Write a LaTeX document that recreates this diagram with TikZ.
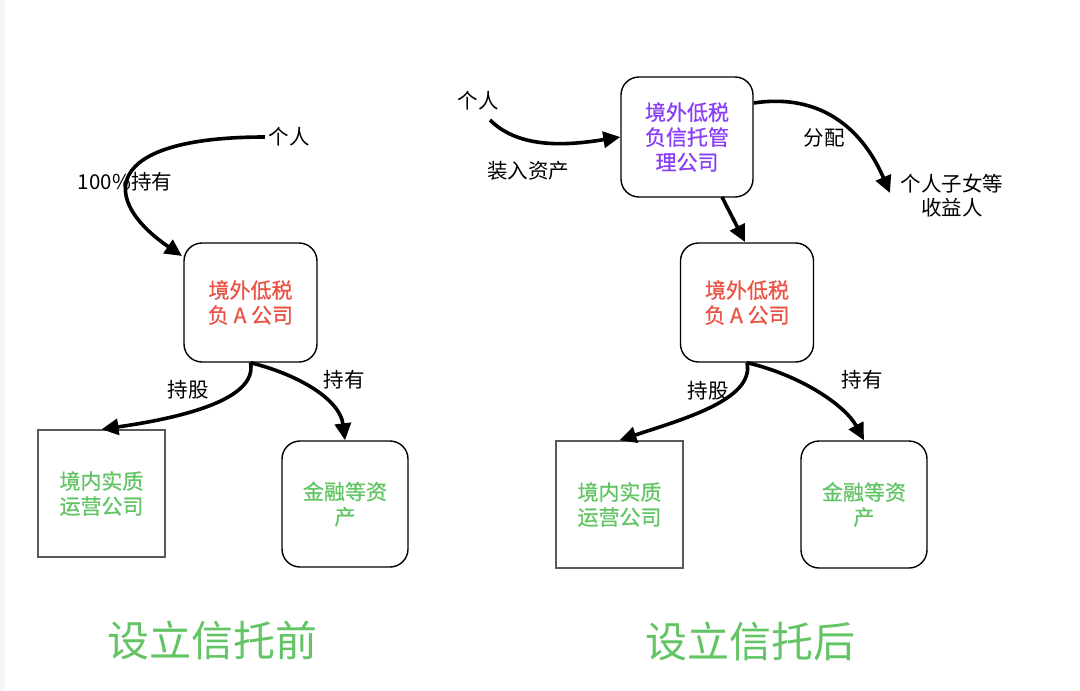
\documentclass[tikz,border=0pt]{standalone}
\usepackage{fontspec}
\setmainfont{Noto Sans CJK SC}
\newfontfamily\boxfont{Noto Sans CJK SC}[FakeBold=0.8]
\usetikzlibrary{arrows.meta}
\definecolor{txtred}{RGB}{233,84,70}
\definecolor{txtgreen}{RGB}{98,196,100}
\definecolor{txtpurple}{RGB}{138,62,245}
\tikzset{
    roundbox/.style={draw,line width=1.4pt,rounded corners=18pt,align=center,
        font=\boxfont\fontsize{21}{25}\selectfont},
    squarebox/.style={draw=black!65,line width=1.4pt,align=center,
        font=\boxfont\fontsize{21}{25}\selectfont},
    lbl/.style={align=center,font=\fontsize{20.5}{24}\selectfont},
    flow/.style={line width=3.6pt,-{Triangle[length=17pt,width=16pt]}}
}
\begin{document}
\begin{tikzpicture}[x=1pt,y=-1pt]
                  \useasboundingbox (0,0) rectangle (1080,691);
                  \fill[black!4] (0,0) rectangle (5,691);

                  % before
                  \node[lbl] (p1) at (289,137) {个人};
                  \node[roundbox,minimum width=133pt,minimum height=119pt,text=txtred]
                      (A1) at (250.5,302.5) {境外低税\\负 A 公司};
                  \node[squarebox,minimum width=127pt,minimum height=127pt,text=txtgreen]
                      (B1) at (101.5,493.5) {境内实质\\运营公司};
                  \node[roundbox,minimum width=126pt,minimum height=126pt,text=txtgreen]
                      (C1) at (345,504) {金融等资\\产};

                  \begin{scope}[lbl]
                      \node (l1) at (125,182) {100\%持有};
                      \node (l2) at (188,390) {持股};
                      \node (l3) at (344,380) {持有};
                  \end{scope}
                  \begin{scope}[flow]
                      \draw (p1.west) .. controls (100,137) and (100,200) .. (182,256);
                      \draw (A1.south) .. controls (258,400) and (180,418) .. (B1.north);
                      \draw (A1.south) .. controls (300,375) and (340,400) .. (C1.north);
                  \end{scope}

                  % after
                  \node[lbl] (p2) at (478,101) {个人};
                  \node[roundbox,minimum width=132pt,minimum height=120pt,text=txtpurple]
                      (T) at (687,137) {境外低税\\负信托管\\理公司};
                  \node[lbl] (ben) at (952,196) {个人子女等\\收益人};
                  \node[roundbox,minimum width=133pt,minimum height=119pt,text=txtred]
                      (A2) at (747,302.5) {境外低税\\负 A 公司};
                  \node[squarebox,minimum width=127pt,minimum height=127pt,text=txtgreen]
                      (B2) at (619.5,504.5) {境内实质\\运营公司};
                  \node[roundbox,minimum width=126pt,minimum height=127pt,text=txtgreen]
                      (C2) at (864,504.5) {金融等资\\产};

                  \begin{scope}[lbl]
                      \node (l4) at (528,171) {装入资产};
                      \node (l5) at (824,138) {分配};
                      \node (l6) at (708,391) {持股};
                      \node (l7) at (862,380) {持有};
                  \end{scope}
                  \begin{scope}[flow]
                      \draw (490,120) .. controls (520,150) and (570,145) .. (T.west);
                      \draw (T.east |- 0,103) .. controls (820,93) and (862,128) .. (890,193);
                      \draw (722,197) -- (745,242);
                      \draw (A2.south) .. controls (755,400) and (680,420) .. (B2.north);
                      \draw (A2.south) .. controls (800,375) and (845,405) .. (C2.north);
                  \end{scope}

                  \begin{scope}[text=txtgreen,font=\fontsize{42}{50}\selectfont]
                      \node (t1) at (212,640) {设立信托前};
                      \node (t2) at (750,641) {设立信托后};
                  \end{scope}
              \end{tikzpicture}
\end{document}
